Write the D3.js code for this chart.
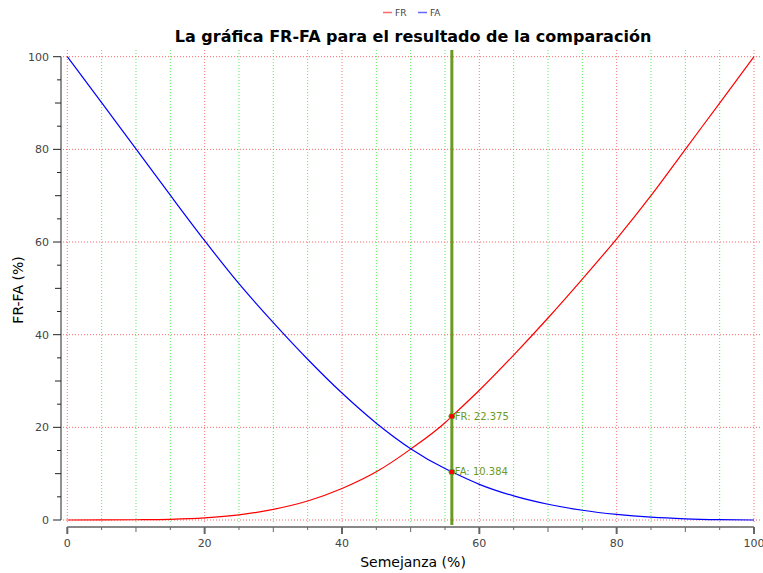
<!DOCTYPE html>
<html><head><meta charset="utf-8">
<script src="https://cdn.jsdelivr.net/npm/d3@7"></script>
<style>body{margin:0;background:#fff}svg{display:block}</style>
</head><body><svg id="c" width="763" height="573"></svg>
<script>
const xValues  = [0, 5, 10, 15, 20, 25, 30, 35, 40, 45, 50, 55, 56, 60, 65, 70, 75, 80, 85, 90, 95, 100];
const frValues = [0, 0.01, 0.05, 0.15, 0.45, 1.1, 2.3, 4.1, 6.8, 10.4, 15.3, 21.0, 22.375, 28.0, 35.6, 43.6, 52.0, 60.7, 70.0, 80.0, 90.0, 100];
const faValues = [100, 90.1, 80.1, 70.1, 60.3, 51.0, 42.6, 34.7, 27.4, 20.9, 15.4, 11.1, 10.384, 7.7, 5.2, 3.4, 2.1, 1.2, 0.6, 0.25, 0.07, 0];
const seriesNames = ["FR", "FA"];
const markerX = 56;
const markerFR = 22.375, markerFA = 10.384;
const xTicks = [0, 20, 40, 60, 80, 100];
const yTicks = [0, 20, 40, 60, 80, 100];
const titleText = "La gráfica FR-FA para el resultado de la comparación";
const xTitle = "Semejanza (%)";
const yTitle = "FR-FA (%)";

const svg = d3.select("#c");
const font = "DejaVu Sans, Verdana, sans-serif";
const x = d3.scaleLinear().domain([0,100]).range([67.3, 754]);
const y = d3.scaleLinear().domain([0,100]).range([520, 56.7]);
const colors = {FR:"#ff0000", FA:"#0000ff"};

// grid
const minor = d3.range(0, 101, 5);
svg.append("g").selectAll("line").data(minor.filter(v => v % 20 !== 0)).join("line")
  .attr("x1", d => x(d)).attr("x2", d => x(d)).attr("y1", 50).attr("y2", 522)
  .attr("stroke", "#55ee55").attr("stroke-dasharray", "1,2").attr("stroke-width", 1);
svg.append("g").selectAll("line").data(xTicks).join("line")
  .attr("x1", d => x(d)).attr("x2", d => x(d)).attr("y1", 50).attr("y2", 522)
  .attr("stroke", "#ff7777").attr("stroke-dasharray", "1,2").attr("stroke-width", 1);
svg.append("g").selectAll("line").data(yTicks).join("line")
  .attr("x1", 63).attr("x2", 760).attr("y1", d => y(d)).attr("y2", d => y(d))
  .attr("stroke", "#ff6666").attr("stroke-dasharray", "1,2").attr("stroke-width", 1);

// y axis
const yAxis = svg.append("g").attr("transform", "translate(61,0)");
yAxis.append("line").attr("x1", 0).attr("x2", 0).attr("y1", y(100)).attr("y2", y(0)).attr("stroke", "#222");
yAxis.selectAll("line.t").data(minor).join("line").attr("class","t")
  .attr("x1", d => d % 20 === 0 ? -8 : (d % 10 === 0 ? -6 : -4)).attr("x2", 0)
  .attr("y1", d => y(d)).attr("y2", d => y(d)).attr("stroke", "#222");
yAxis.selectAll("text").data(yTicks).join("text")
  .attr("x", -12).attr("y", d => y(d)).attr("dy", "0.35em").attr("text-anchor", "end")
  .attr("font-family", font).attr("font-size", 11).attr("fill", "#444").text(d => d);

// x axis
const xAxis = svg.append("g").attr("transform", "translate(0,527)");
xAxis.append("line").attr("x1", x(0)).attr("x2", x(100)).attr("y1", 0).attr("y2", 0).attr("stroke", "#888").attr("stroke-width", 2);
xAxis.selectAll("line.t").data(minor).join("line").attr("class","t")
  .attr("x1", d => x(d)).attr("x2", d => x(d)).attr("y1", 0)
  .attr("y2", d => d % 20 === 0 ? 7 : (d % 10 === 0 ? 5 : 3)).attr("stroke", "#666").attr("stroke-width", d => d % 20 === 0 ? 2 : 1);
xAxis.selectAll("text").data(xTicks).join("text")
  .attr("x", d => x(d)).attr("y", 20).attr("text-anchor", "middle")
  .attr("font-family", font).attr("font-size", 11).attr("fill", "#444").text(d => d);

// curves
const line = d3.line().curve(d3.curveMonotoneX);
const data = {
  FR: xValues.map((v,i) => [x(v), y(frValues[i])]),
  FA: xValues.map((v,i) => [x(v), y(faValues[i])])
};
seriesNames.forEach(n => {
  svg.append("path").attr("d", line(data[n])).attr("fill", "none")
    .attr("stroke", colors[n]).attr("stroke-width", 1.2);
});

// marker line
svg.append("line").attr("x1", x(markerX)).attr("x2", x(markerX)).attr("y1", 50).attr("y2", 525)
  .attr("stroke", "#6a9a22").attr("stroke-width", 3);
[["FR", markerFR], ["FA", markerFA]].forEach(([n, v]) => {
  svg.append("circle").attr("cx", x(markerX)).attr("cy", y(v)).attr("r", 3)
    .attr("fill", "#ff0000").attr("stroke", "#33cc33").attr("stroke-width", 0.8);
  svg.append("text").attr("x", x(markerX) + 3).attr("y", y(v)).attr("dy", "0.35em")
    .attr("font-family", font).attr("font-size", 10).attr("fill", "#6a9a22")
    .text(n + ": " + (n === "FR" ? markerFR.toFixed(3) : markerFA.toFixed(3)));
});

// title
svg.append("text").attr("x", 413).attr("y", 42).attr("text-anchor", "middle")
  .attr("font-family", font).attr("font-weight", "bold").attr("font-size", 16).attr("fill", "#000").text(titleText);

// legend
const leg = svg.append("g").attr("font-family", font).attr("font-size", 9).attr("fill", "#444");
seriesNames.forEach((n, i) => {
  const lx = 383 + i * 35;
  leg.append("line").attr("x1", lx).attr("x2", lx + 9).attr("y1", 12.5).attr("y2", 12.5)
    .attr("stroke", colors[n]).attr("stroke-opacity", 0.6).attr("stroke-width", 1.5);
  leg.append("text").attr("x", lx + 12).attr("y", 12.5).attr("dy", "0.35em").text(n);
});

// axis titles
svg.append("text").attr("x", 413).attr("y", 567).attr("text-anchor", "middle")
  .attr("font-family", font).attr("font-size", 14).attr("fill", "#000").text(xTitle);
svg.append("text").attr("transform", "translate(23,290) rotate(-90)").attr("text-anchor", "middle")
  .attr("font-family", font).attr("font-size", 14).attr("fill", "#000").text(yTitle);
</script></body></html>
